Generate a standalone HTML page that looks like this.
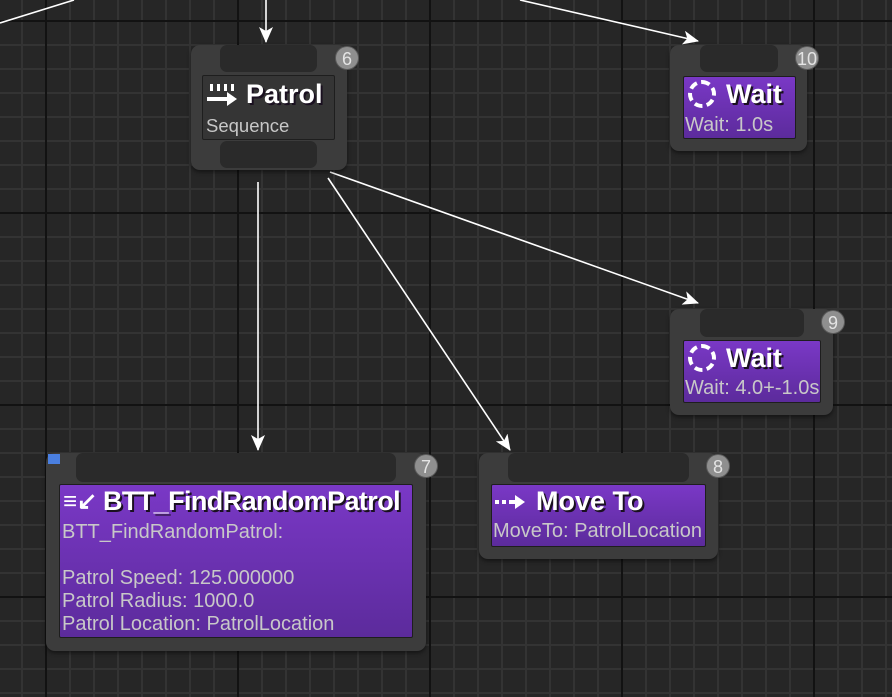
<!DOCTYPE html>
<html><head><meta charset="utf-8"><style>
body{margin:0;width:892px;height:697px;overflow:hidden;background:#262626;font-family:"Liberation Sans",sans-serif;position:relative}
.grid{position:absolute;left:0;top:0}
.node{position:absolute;background:#3c3c3c;border-radius:9px;box-shadow:0 2px 4px rgba(0,0,0,.5)}
.bar{position:absolute;background:#2a2a2a;border-radius:7px}
.inner{position:absolute;border:1px solid #1e1e1e;border-radius:2px;box-sizing:border-box;overflow:hidden}
.purple{background:linear-gradient(#7a38c6,#5c2b9c)}
.gray{background:#353535}
.title{position:absolute;color:#fff;font-weight:bold;font-size:27px;text-shadow:2px 2px 0 #1a1020;white-space:nowrap}
.sub{position:absolute;color:#c8c8c8;font-size:20px;white-space:nowrap;line-height:23px}
.badge{position:absolute;width:24px;height:24px;border-radius:50%;background:#8f8f8f;color:#e4e4e4;font-size:18px;text-align:center;line-height:24px;border:1px solid #5a5a5a;box-sizing:border-box}
.ring{position:absolute;width:28px;height:28px;border:4px dashed #fff;border-radius:50%;box-sizing:border-box}
</style></head><body>
<svg class="grid" width="892" height="697">
<defs>
<pattern id="mn" x="21" y="20" width="24" height="24" patternUnits="userSpaceOnUse">
<rect x="0" y="0" width="2" height="24" fill="#333"/><rect x="0" y="0" width="24" height="2" fill="#333"/></pattern>
<pattern id="mj" x="45" y="20" width="192" height="192" patternUnits="userSpaceOnUse">
<rect x="0" y="0" width="2" height="192" fill="#121212"/><rect x="0" y="0" width="192" height="2" fill="#121212"/></pattern>
<marker id="ah2" viewBox="0 0 16 14" markerWidth="16" markerHeight="14" refX="15" refY="7" orient="auto" markerUnits="userSpaceOnUse"><path d="M0,0 L16,7 L0,14 L4,7 Z" fill="#fff"/></marker>
</defs>
<rect width="892" height="697" fill="url(#mn)"/>
<rect width="892" height="697" fill="url(#mj)"/>
<g stroke="#fff" stroke-width="1.6" fill="none">
<line x1="74" y1="0" x2="0" y2="23"/>
<line x1="266" y1="0" x2="266" y2="42" marker-end="url(#ah2)"/>
<line x1="520" y1="0" x2="698" y2="41" marker-end="url(#ah2)"/>
<line x1="258" y1="182" x2="258" y2="450" marker-end="url(#ah2)"/>
<line x1="328" y1="178" x2="510" y2="450" marker-end="url(#ah2)"/>
<line x1="330" y1="172" x2="698" y2="303" marker-end="url(#ah2)"/>
</g>
</svg>

<!-- Patrol -->
<div class="node" style="left:191px;top:45px;width:156px;height:125px"></div>
<div class="bar" style="left:220px;top:45px;width:97px;height:27px"></div>
<div class="inner gray" style="left:202px;top:75px;width:133px;height:65px"></div>
<div class="bar" style="left:220px;top:141px;width:97px;height:27px"></div>
<svg style="position:absolute;left:207px;top:84px" width="34" height="24">
<g fill="#fff"><rect x="3" y="0" width="3" height="7"/><rect x="10" y="0" width="3" height="7"/><rect x="17" y="0" width="3" height="7"/><rect x="24" y="0" width="3" height="7"/>
<rect x="0" y="13" width="22" height="4"/><path d="M20,8 L30,15 L20,22 Z"/></g></svg>
<div class="title" style="left:246px;top:79px">Patrol</div>
<div class="sub" style="left:206px;top:114px;font-size:18.5px">Sequence</div>
<div class="badge" style="left:335px;top:46px">6</div>

<!-- Wait 10 -->
<div class="node" style="left:670px;top:45px;width:137px;height:106px"></div>
<div class="bar" style="left:700px;top:45px;width:78px;height:27px"></div>
<div class="inner purple" style="left:683px;top:76px;width:113px;height:63px"></div>
<div class="ring" style="left:688px;top:80px"></div>
<div class="title" style="left:726px;top:79px">Wait</div>
<div class="sub" style="left:685px;top:114px">Wait: 1.0s</div>
<div class="badge" style="left:795px;top:46px">10</div>

<!-- Wait 9 -->
<div class="node" style="left:670px;top:309px;width:163px;height:106px"></div>
<div class="bar" style="left:700px;top:309px;width:104px;height:28px"></div>
<div class="inner purple" style="left:683px;top:340px;width:138px;height:63px"></div>
<div class="ring" style="left:688px;top:344px"></div>
<div class="title" style="left:726px;top:343px">Wait</div>
<div class="sub" style="left:685px;top:377px">Wait: 4.0+-1.0s</div>
<div class="badge" style="left:821px;top:310px">9</div>

<!-- BTT -->
<div class="node" style="left:46px;top:453px;width:380px;height:198px"></div>
<div class="bar" style="left:76px;top:453px;width:320px;height:29px"></div>
<div class="inner purple" style="left:59px;top:484px;width:354px;height:154px"></div>
<div style="position:absolute;left:48px;top:454px;width:12px;height:10px;background:#4a7fe0"></div>
<div style="position:absolute;left:63px;top:488px;color:#fff;font-size:24px;font-weight:bold;line-height:28px">≡↙</div>
<div class="title" style="left:103px;top:486px;letter-spacing:-0.6px">BTT_FindRandomPatrol</div>
<div class="sub" style="left:62px;top:521px">BTT_FindRandomPatrol:<br><br>Patrol Speed: 125.000000<br>Patrol Radius: 1000.0<br>Patrol Location: PatrolLocation</div>
<div class="badge" style="left:414px;top:454px">7</div>

<!-- Move To -->
<div class="node" style="left:479px;top:453px;width:239px;height:106px"></div>
<div class="bar" style="left:508px;top:453px;width:181px;height:29px"></div>
<div class="inner purple" style="left:491px;top:484px;width:215px;height:63px"></div>
<svg style="position:absolute;left:495px;top:494px" width="34" height="16"><g fill="#fff"><rect x="0" y="6" width="4" height="4"/><rect x="7" y="6" width="4" height="4"/><rect x="14" y="6" width="8" height="4"/><path d="M20,1 L30,8 L20,15 Z"/></g></svg>
<div class="title" style="left:536px;top:486px">Move To</div>
<div class="sub" style="left:493px;top:520px">MoveTo: PatrolLocation</div>
<div class="badge" style="left:706px;top:454px">8</div>
</body></html>
